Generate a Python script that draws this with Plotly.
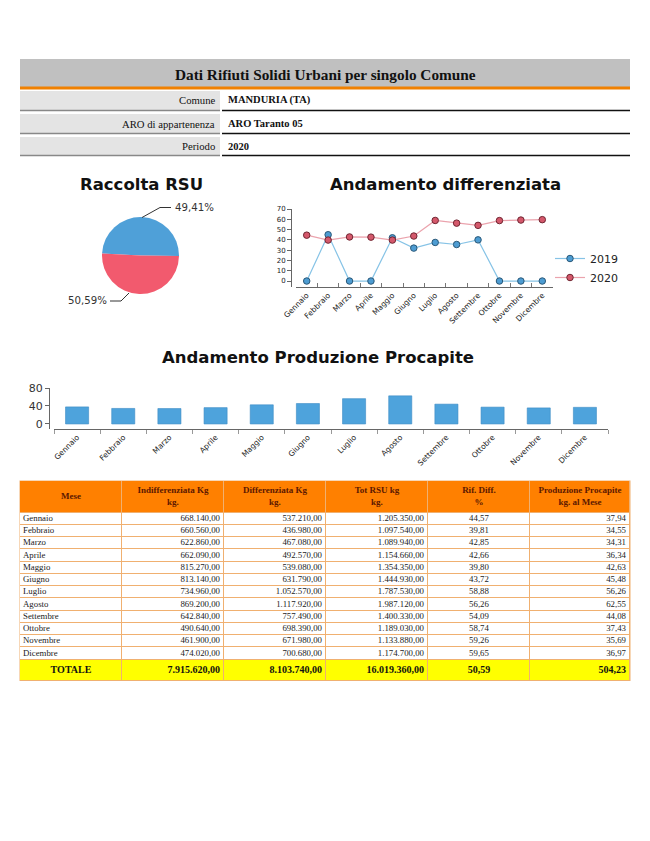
import plotly.graph_objects as go

W, H = 650, 841
OFF = 8  # page body margin of the browser


def px(x):
    return (x - OFF) / W


def py(y):
    return 1 - (y - OFF) / H


# ---------------- data ----------------
months = ["Gennaio", "Febbraio", "Marzo", "Aprile", "Maggio", "Giugno",
          "Luglio", "Agosto", "Settembre", "Ottobre", "Novembre", "Dicembre"]
indiff = [668140, 660560, 622860, 662090, 815270, 813140,
          734960, 869200, 642840, 490640, 461900, 474020]
diff = [537210, 436980, 467080, 492570, 539080, 631790,
        1052570, 1117920, 757490, 698390, 671980, 700680]
rif_2020 = [44.57, 39.81, 42.85, 42.66, 39.80, 43.72,
            58.88, 56.26, 54.09, 58.74, 59.26, 59.65]
rif_2019 = [0, 45, 0, 0, 42, 32, 37.5, 35.5, 40, 0, 0, 0]
procapite = [37.94, 34.55, 34.31, 36.34, 42.63, 45.48,
             56.26, 62.55, 44.08, 37.43, 35.69, 36.97]
pie_labels = ["Indifferenziata", "Differenziata"]
info_labels = ["Comune", "ARO di appartenenza", "Periodo"]
info_values = ["MANDURIA (TA)", "ARO Taranto 05", "2020"]
table_header = ["Mese", "Indifferenziata Kg<br>kg.", "Differenziata Kg<br>kg.",
                "Tot RSU kg<br>kg.", "Rif. Diff.<br>%", "Produzione Procapite<br>kg. al Mese"]
total_label = "TOTALE"


def fmt_it(v, dec=2):
    s = f"{v:,.{dec}f}"
    return s.replace(",", "X").replace(".", ",").replace("X", ".")


tot = [a + b for a, b in zip(indiff, diff)]
tot_indiff = sum(indiff)
tot_diff = sum(diff)
tot_all = sum(tot)
tot_pct = tot_diff / tot_all * 100
tot_proc = sum(procapite)

SERIF = "Liberation Serif"
SANS = "DejaVu Sans"

fig = go.Figure()

# ---------------- pie ----------------
pie_vals = [tot_indiff, tot_diff]
fig.add_trace(go.Pie(
    labels=pie_labels, values=pie_vals, sort=False, direction="clockwise",
    rotation=273, textinfo="none", showlegend=False,
    marker=dict(colors=["#4fa0d8", "#f25a6e"], line=dict(width=0)),
    domain=dict(x=[px(102), px(179)], y=[py(294), py(217)]),
))

# ---------------- line chart ----------------
fig.add_trace(go.Scatter(
    x=months, y=rif_2019, name="2019", mode="lines+markers",
    line=dict(color="#86c3e6", width=1.2),
    marker=dict(size=6.5, color="#4d9cd2", line=dict(color="#2a5878", width=1)),
    xaxis="x", yaxis="y",
))
fig.add_trace(go.Scatter(
    x=months, y=rif_2020, name="2020", mode="lines+markers",
    line=dict(color="#eba3ad", width=1.2),
    marker=dict(size=6.5, color="#d4586b", line=dict(color="#702632", width=1)),
    xaxis="x", yaxis="y",
))

# ---------------- bar chart ----------------
fig.add_trace(go.Bar(
    x=months, y=procapite, showlegend=False,
    marker=dict(color="#4ea3dc", line=dict(color="#3d8cc4", width=0.6)),
    xaxis="x2", yaxis="y2",
))

# ---------------- table (heatmap cells + text) ----------------
TX0, TX1 = 20, 630
col_edges = [20, 122, 224, 326, 428, 530, 630]
HDR_TOP, HDR_BOT = 481, 512.5
ROW_H = 12.25
TOT_H = 21
row_edges = [HDR_TOP, HDR_BOT] + [HDR_BOT + ROW_H * (i + 1) for i in range(len(months))]
row_edges.append(row_edges[-1] + TOT_H)
TY1 = row_edges[-1]

z = [[1] * 6] + [[0] * 6 for _ in months] + [[2] * 6]
fig.add_trace(go.Heatmap(
    x=col_edges, y=row_edges, z=z, zmin=0, zmax=2, showscale=False,
    colorscale=[[0, "#ffffff"], [0.5, "#ff8000"], [1, "#ffff00"]],
    xgap=1, ygap=1, hoverinfo="skip", xaxis="x3", yaxis="y3",
))

centers_x = [(col_edges[i] + col_edges[i + 1]) / 2 for i in range(6)]
row_cy = [(row_edges[i + 1] + row_edges[i + 2]) / 2 for i in range(len(months))]
tot_cy = (row_edges[-2] + row_edges[-1]) / 2
hdr_cy = (HDR_TOP + HDR_BOT) / 2

body_cols = [months,
             [fmt_it(v) for v in indiff],
             [fmt_it(v) for v in diff],
             [fmt_it(v) for v in tot],
             [fmt_it(v) for v in rif_2020],
             [fmt_it(v) for v in procapite]]
tot_row = [total_label, fmt_it(tot_indiff), fmt_it(tot_diff), fmt_it(tot_all),
           fmt_it(tot_pct), fmt_it(tot_proc)]
aligns = ["left", "right", "right", "right", "center", "right"]
PAD_L, PAD_R = 3, 4


def add_text(xs, ys, texts, pos, size, color):
    fig.add_trace(go.Scatter(
        x=xs, y=ys, text=texts, mode="text", textposition=pos,
        textfont=dict(family=SERIF, size=size, color=color),
        showlegend=False, hoverinfo="skip", xaxis="x3", yaxis="y3",
    ))


# header
add_text(centers_x, [hdr_cy] * 6, [f"<b>{h}</b>" for h in table_header],
         "middle center", 9, "#5c1800")
# body
for c in range(6):
    if aligns[c] == "left":
        xs, pos = [col_edges[c] + PAD_L] * len(months), "middle right"
    elif aligns[c] == "right":
        xs, pos = [col_edges[c + 1] - PAD_R] * len(months), "middle left"
    else:
        xs, pos = [centers_x[c]] * len(months), "middle center"
    add_text(xs, row_cy, body_cols[c], pos, 8.8, "#222")
# total row
tot_aligns = ["center", "right", "right", "right", "center", "right"]
for c in range(6):
    if tot_aligns[c] == "right":
        xs, pos = [col_edges[c + 1] - PAD_R], "middle left"
    else:
        xs, pos = [centers_x[c]], "middle center"
    add_text(xs, [tot_cy], [f"<b>{tot_row[c]}</b>"], pos, 10, "#111")

# ---------------- shapes & annotations ----------------
shapes = []
annotations = []

# border colour under the table cells
shapes.append(dict(type="rect", xref="paper", yref="paper", x0=px(TX0 - 0.5), x1=px(TX1 + 0.5),
                   y0=py(TY1 + 0.5), y1=py(HDR_TOP - 0.5), fillcolor="#f0b070",
                   line=dict(width=0), layer="below"))

# header bar
shapes.append(dict(type="rect", xref="paper", yref="paper", x0=px(20), x1=px(630),
                   y0=py(87), y1=py(59), fillcolor="#c0c0c0", line=dict(width=0), layer="below"))
shapes.append(dict(type="line", xref="paper", yref="paper", x0=px(20), x1=px(630),
                   y0=py(88), y1=py(88), line=dict(color="#f08000", width=3)))
annotations.append(dict(xref="paper", yref="paper", x=px(325), y=py(74),
                        text="<b>Dati Rifiuti Solidi Urbani per singolo Comune</b>",
                        showarrow=False, font=dict(family=SERIF, size=15.3, color="#111"),
                        xanchor="center", yanchor="middle"))

row_tops = [91, 114, 137]
row_bots = [110, 133, 155]
for lab, val, t, b in zip(info_labels, info_values, row_tops, row_bots):
    shapes.append(dict(type="rect", xref="paper", yref="paper", x0=px(20), x1=px(220),
                       y0=py(b), y1=py(t), fillcolor="#e4e4e4", line=dict(width=0), layer="below"))
    shapes.append(dict(type="line", xref="paper", yref="paper", x0=px(20), x1=px(220),
                       y0=py(b + 0.5), y1=py(b + 0.5), line=dict(color="#888", width=1.5)))
    shapes.append(dict(type="line", xref="paper", yref="paper", x0=px(222), x1=px(630),
                       y0=py(b + 0.5), y1=py(b + 0.5), line=dict(color="#111", width=1.5)))
    annotations.append(dict(xref="paper", yref="paper", x=px(217), y=py((t + b) / 2),
                            text=lab, showarrow=False, xanchor="right", yanchor="middle",
                            font=dict(family=SERIF, size=10.7, color="#111")))
    annotations.append(dict(xref="paper", yref="paper", x=px(226), y=py((t + b) / 2),
                            text=f"<b>{val}</b>", showarrow=False, xanchor="left", yanchor="middle",
                            font=dict(family=SERIF, size=10.5, color="#111")))

# chart titles
for txt, x, y in [("Raccolta RSU", 141, 184), ("Andamento differenziata", 445, 184),
                  ("Andamento Produzione Procapite", 318, 357)]:
    annotations.append(dict(xref="paper", yref="paper", x=px(x), y=py(y), text=f"<b>{txt}</b>",
                            showarrow=False, xanchor="center", yanchor="middle",
                            font=dict(family=SANS, size=16.5, color="#111")))

# pie labels with leader lines
pcts = [v / sum(pie_vals) * 100 for v in pie_vals]
shapes.append(dict(type="path", xref="paper", yref="paper",
                   path=f"M {px(142)},{py(217.5)} L {px(160)},{py(207.5)} L {px(171)},{py(207.5)}",
                   line=dict(color="#333", width=1)))
annotations.append(dict(xref="paper", yref="paper", x=px(172.5), y=py(207.5),
                        text=fmt_it(pcts[0]) + "%", showarrow=False, xanchor="left", yanchor="middle",
                        font=dict(family=SANS, size=10.2, color="#333")))
shapes.append(dict(type="path", xref="paper", yref="paper",
                   path=f"M {px(129)},{py(293)} L {px(121)},{py(301)} L {px(110)},{py(301)}",
                   line=dict(color="#333", width=1)))
annotations.append(dict(xref="paper", yref="paper", x=px(108.5), y=py(301),
                        text=fmt_it(pcts[1]) + "%", showarrow=False, xanchor="right", yanchor="middle",
                        font=dict(family=SANS, size=10.2, color="#333")))

fig.update_layout(
    width=W, height=H, margin=dict(l=0, r=0, t=0, b=0, autoexpand=False),
    paper_bgcolor="white", plot_bgcolor="rgba(0,0,0,0)",
    font=dict(family=SANS, color="#333"),
    bargap=0.5,
    shapes=shapes, annotations=annotations,
    legend=dict(x=px(550), y=py(244), xanchor="left", yanchor="top",
                font=dict(family=SANS, size=11, color="#222"), bgcolor="rgba(0,0,0,0)",
                itemwidth=30, tracegroupgap=2),
    xaxis=dict(domain=[px(296), px(553)], anchor="y", type="category", range=[-0.5, 11.5],
               tickson="boundaries", ticks="inside", ticklen=4, tickcolor="#777",
               showline=True, linecolor="#666", linewidth=1, tickangle=-45,
               tickfont=dict(size=7.6, color="#222"), showgrid=False, zeroline=False),
    yaxis=dict(domain=[py(287), py(209)], anchor="free", position=px(291), range=[-5.8, 70],
               tickvals=[0, 10, 20, 30, 40, 50, 60, 70], ticks="outside", ticklen=4, tickcolor="#666",
               showline=True, linecolor="#666", linewidth=1,
               tickfont=dict(size=7, color="#222"), showgrid=False, zeroline=False),
    xaxis2=dict(domain=[px(54), px(608)], anchor="y2", type="category", range=[-0.5, 11.5],
                tickson="boundaries", ticks="outside", ticklen=4, tickcolor="#999",
                showline=True, linecolor="#666", linewidth=1, tickangle=-45,
                tickfont=dict(size=7.6, color="#222"), showgrid=False, zeroline=False),
    yaxis2=dict(domain=[py(429), py(388)], anchor="free", position=px(49), range=[-11.2, 80],
                tickvals=[0, 40, 80], ticks="outside", ticklen=4, tickcolor="#666",
                showline=True, linecolor="#666", linewidth=1,
                tickfont=dict(size=11, color="#333"), showgrid=False, zeroline=False),
    xaxis3=dict(domain=[px(TX0), px(TX1)], anchor="y3", range=[TX0, TX1], visible=False,
                fixedrange=True),
    yaxis3=dict(domain=[py(TY1), py(HDR_TOP)], anchor="x3", range=[TY1, HDR_TOP], visible=False,
                fixedrange=True),
)

fig.write_html("out.html")
